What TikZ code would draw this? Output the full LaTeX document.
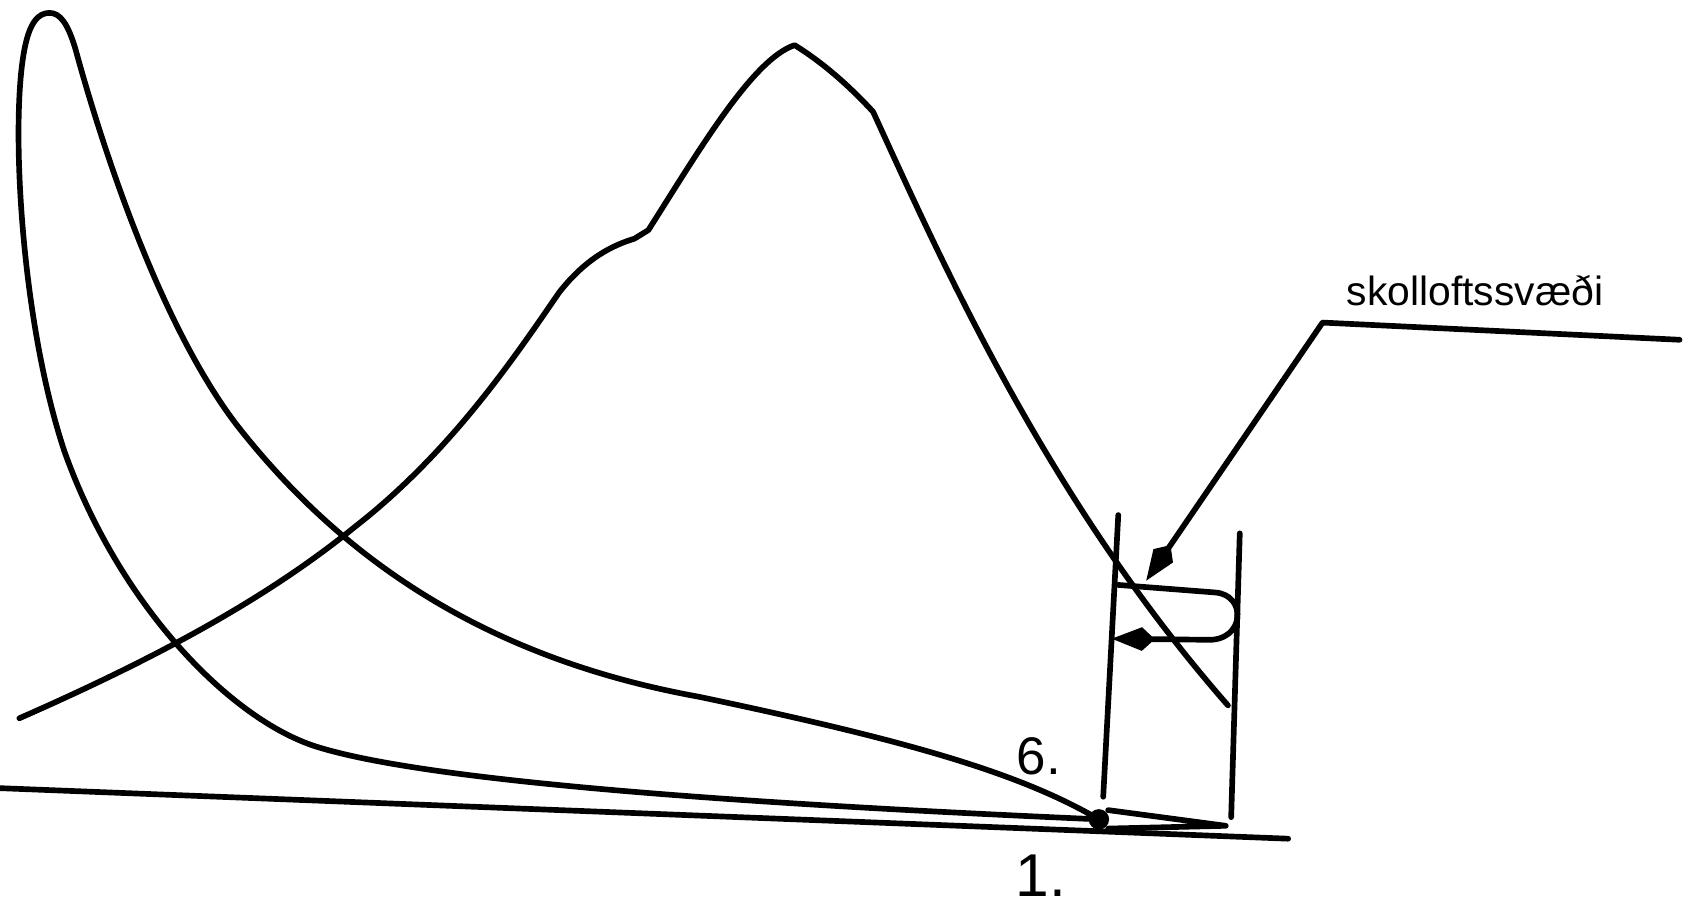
\documentclass[tikz,border=0pt]{standalone}
\usepackage{fontspec}
\setmainfont{Liberation Sans}
\usetikzlibrary{arrows.meta, positioning}

\begin{document}
\begin{tikzpicture}[x=0.1mm, y=-0.1mm, line width=1.5pt, line cap=round, line join=round,
    head/.style={-{Kite[length=4mm, width=2.2mm, inset=1.2mm]}}]
      \useasboundingbox (0,0) rectangle (1568,845);
      % ground line
      \draw (0,733) -- (1198,780);
      % point where the loop closes
      \node[circle, fill, inner sep=0pt, minimum size=1.9mm] (dot) at (1022,762) {};
      % tall loop
      \draw (dot.center) .. controls (750,750) and (400,730) .. (290,693)
        .. controls (210,665) and (110,560) .. (60,420)
        .. controls (20,300) and (10,120) .. (22,50)
        .. controls (27,20) and (36,12) .. (46,12)
        .. controls (56,12) and (63,22) .. (70,45)
        .. controls (85,100) and (140,290) .. (220,395)
        .. controls (310,510) and (440,610) .. (650,648)
        .. controls (850,690) and (950,720) .. (dot.center);
      % mountain curve
      \draw (18,668) .. controls (150,610) and (250,555) .. (330,490)
        .. controls (420,420) and (480,330) .. (520,272)
        .. controls (545,240) and (570,228) .. (590,222) -- (603,214)
        .. controls (650,140) and (700,55) .. (739,42)
        .. controls (765,58) and (790,80) .. (812,104)
        .. controls (870,230) and (970,460) .. (1142,656);
      % wedge
      \coordinate (tipend) at (1140,768);
      \draw (dot.north east) -- (tipend) -- (dot.south east);
      % box sides
      \draw (1040,479) -- (1026,741);
      \draw (1153,496) -- (1145,760);
      % loop arrow
      \coordinate (loopin) at (1040,544);
      \coordinate (loopout) at (1034,594);
      \draw[head] (loopin) -- (1130,551) .. controls (1160,553) and (1158,597) .. (1122,595) -- (loopout);
      % label and pointer
      \node[anchor=base west, font=\fontsize{10.8}{12}\selectfont, inner sep=0pt] (lbl) at (1250,284) {skolloftssvæði};
      \coordinate (lineend) at (1562,316);
      \coordinate (elbow) at (1230,300);
      \coordinate (ptip) at (1066,540);
      \draw[head] (lineend) -- (elbow) -- (ptip);
      % numbers
      \node[font=\fontsize{14}{14}\selectfont, anchor=base, inner sep=0pt] (six) at (966,720) {6.};
      \node[font=\fontsize{16}{16}\selectfont, anchor=base, inner sep=0pt] (one) at (968,834) {1.};
    \end{tikzpicture}
\end{document}
